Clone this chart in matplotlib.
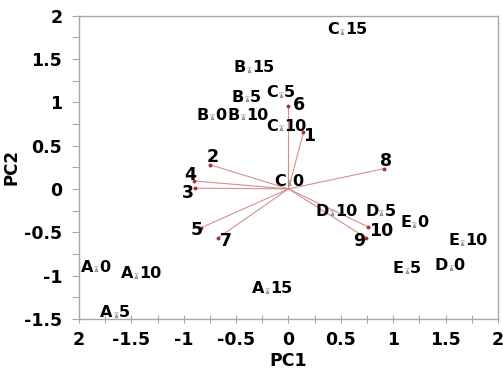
import numpy as np
import matplotlib.pyplot as plt
from matplotlib.path import Path
from matplotlib.ticker import MultipleLocator, FixedLocator, FixedFormatter

# ── Data ──────────────────────────────────────────────────────────────────────
sample_groups = ["A", "A", "A", "A", "B", "B", "B", "B", "C", "C", "C", "C",
                 "D", "D", "D", "E", "E", "E"]
sample_times = ["0", "5", "10", "15", "0", "5", "10", "15", "0", "5", "10", "15",
                "0", "5", "10", "0", "5", "10"]
sample_pc1 = [-1.834, -1.65, -1.452, -0.204, -0.73, -0.395, -0.437, -0.376,
              0.003, -0.074, -0.07, 0.509, 1.547, 0.888, 0.417, 1.2, 1.127, 1.658]
sample_pc2 = [-0.926, -1.453, -1.0, -1.176, 0.827, 1.035, 0.827, 1.373,
              0.066, 1.084, 0.70, 1.814, -0.908, -0.28, -0.28, -0.415, -0.946, -0.619]

var_labels = ["1", "2", "3", "4", "5", "6", "7", "8", "9", "10"]
var_pc1 = [0.143, -0.752, -0.888, -0.90, -0.831, 0.0, -0.669, 0.913, 0.738, 0.76]
var_pc2 = [0.654, 0.28, 0.008, 0.092, -0.446, 0.957, -0.562, 0.234, -0.562, -0.438]
# label offsets in pixels from arrow tip
var_dx = [6, 3, -8, -4, -5, 10, 7, 2, -7, 13]
var_dy = [-4, 8, -5, 6, -2, 1, -3, 8, -3, -4]

xtick_vals = [-2, -1.5, -1, -0.5, 0, 0.5, 1, 1.5, 2]
xtick_text = ["2", "-1.5", "-1", "-0.5", "0", "0.5", "1", "1.5", "2"]
ytick_vals = [-1.5, -1, -0.5, 0, 0.5, 1, 1.5, 2]
ytick_text = ["-1.5", "-1", "-0.5", "0", "0.5", "1", "1.5", "2"]

# ── Style ─────────────────────────────────────────────────────────────────────
plt.rcParams["font.family"] = ["DejaVu Sans"]
plt.rcParams["font.weight"] = "bold"
AX_GREY = "#a8a8a8"
VEC_COL = "#d49090"

# tiny "dash + triangle" marker used for sample points
marker_path = Path(
    [(-1, 1.2), (1, 1.2), (-0.7, -1), (0.7, -1), (0, 0.6), (-0.7, -1)],
    [Path.MOVETO, Path.LINETO, Path.MOVETO, Path.LINETO, Path.LINETO, Path.CLOSEPOLY],
)

fig = plt.figure(figsize=(5.03, 3.70), dpi=100)
ax = fig.add_axes([0.157, 0.138, 0.833, 0.820])
ax.set_xlim(-2, 2)
ax.set_ylim(-1.5, 2)

# ── Loading vectors ───────────────────────────────────────────────────────────
for x, y, lab, dx, dy in zip(var_pc1, var_pc2, var_labels, var_dx, var_dy):
    ax.plot([0, x], [0, y], color=VEC_COL, lw=0.8, zorder=2)
    ax.plot(x, y, "o", color="#b03030", ms=1.8, zorder=3)
    ax.annotate(lab, (x, y), xytext=(dx, dy), textcoords="offset pixels",
                ha="center", va="center", fontsize=12.5, fontweight="bold")

# ── Sample scores ─────────────────────────────────────────────────────────────
ax.scatter(sample_pc1, sample_pc2, marker=marker_path, s=14, facecolor="#b8b8b8",
           edgecolor="#808080", linewidths=0.5, zorder=4)
for x, y, g, t in zip(sample_pc1, sample_pc2, sample_groups, sample_times):
    ax.annotate(g, (x, y), xytext=(-3, -2.5), textcoords="offset pixels",
                ha="right", va="baseline", fontsize=11.5, fontweight="bold")
    ax.annotate(t, (x, y), xytext=(3, -2.5), textcoords="offset pixels",
                ha="left", va="baseline", fontsize=11.5, fontweight="bold")

# ── Axes ──────────────────────────────────────────────────────────────────────
for sp in ax.spines.values():
    sp.set_color(AX_GREY)
    sp.set_linewidth(1.0)

ax.xaxis.set_major_locator(FixedLocator(xtick_vals))
ax.xaxis.set_major_formatter(FixedFormatter(xtick_text))
ax.yaxis.set_major_locator(FixedLocator(ytick_vals))
ax.yaxis.set_major_formatter(FixedFormatter(ytick_text))
ax.xaxis.set_minor_locator(MultipleLocator(0.25))
ax.yaxis.set_minor_locator(MultipleLocator(0.25))

ax.tick_params(axis="x", which="both", direction="inout", length=6, width=0.8,
               color=AX_GREY, top=False, labelsize=12.5, pad=6)
ax.tick_params(axis="y", which="both", direction="out", length=5, width=0.8,
               color=AX_GREY, right=False, labelsize=12.5, pad=7)
for lbl in ax.get_xticklabels() + ax.get_yticklabels():
    lbl.set_fontweight("bold")

ax.set_xlabel("PC1", fontsize=12.5, fontweight="bold", labelpad=2)
ax.set_ylabel("PC2", fontsize=12, fontweight="bold", labelpad=3)

fig.savefig("out.png", dpi=100)
